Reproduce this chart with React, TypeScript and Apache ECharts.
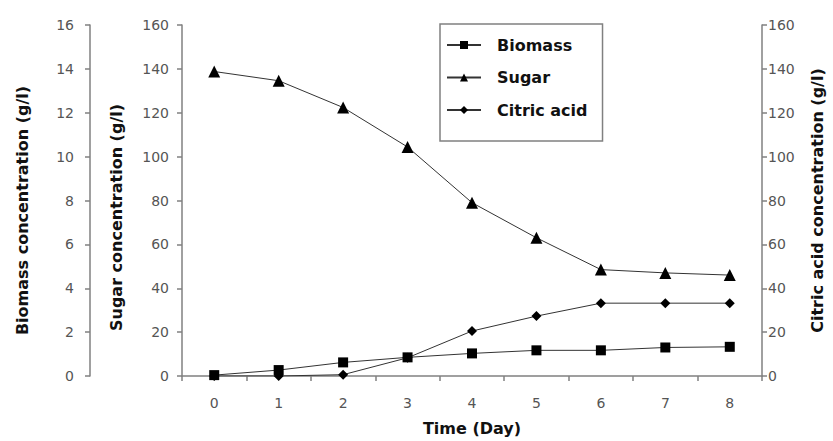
import React, { useEffect, useRef } from "react";
import * as echarts from "echarts";

const days = ["0", "1", "2", "3", "4", "5", "6", "7", "8"];
const biomass = [0.04, 0.27, 0.62, 0.85, 1.03, 1.17, 1.17, 1.3, 1.33];
const sugar = [138.8, 134.6, 122.4, 104.4, 79, 63, 48.5, 47, 46];
const citricAcid = [0, 0, 0.6, 8.3, 20.5, 27.3, 33.2, 33.2, 33.2];

const biomassTicks = { min: 0, max: 16, interval: 2 };
const concTicks = { min: 0, max: 160, interval: 20 };

const FONT = "DejaVu Sans";
const AXIS_GRAY = "#808080";
const LABEL_GRAY = "#555";

export default function App() {
  const ref = useRef<HTMLDivElement>(null);

  useEffect(() => {
    if (!ref.current) return;
    document.body.style.margin = "0";
    const chart = echarts.init(ref.current, undefined, { renderer: "svg" });

    const axisLine = { show: true, lineStyle: { color: AXIS_GRAY, width: 1.5 } };
    const axisTick = { show: true, length: 5, lineStyle: { color: AXIS_GRAY, width: 1.5 } };
    const nameStyle = { fontFamily: FONT, fontWeight: "bold", fontSize: 16, color: "#111" };
    const labelStyle = { fontFamily: FONT, fontSize: 14, color: LABEL_GRAY };

    const lineStyle = { color: "#333", width: 1 };
    const itemStyle = { color: "#000" };

    chart.setOption({
      animation: false,
      grid: { left: 182, right: 70, top: 25, bottom: 65, containLabel: false },
      legend: {
        show: true,
        orient: "vertical",
        left: 440,
        top: 24,
        padding: [12, 15, 22, 6],
        itemGap: 14.5,
        itemWidth: 34,
        itemHeight: 10,
        borderColor: AXIS_GRAY,
        borderWidth: 1.5,
        data: ["Biomass", "Sugar", "Citric acid"],
        textStyle: {
          fontFamily: FONT,
          fontWeight: "bold",
          fontSize: 16,
          color: "#111",
          lineHeight: 18,
          padding: [0, 0, 0, 11],
        },
      },
      xAxis: {
        type: "category",
        data: days,
        boundaryGap: true,
        name: "Time (Day)",
        nameLocation: "middle",
        nameGap: 44,
        nameTextStyle: nameStyle,
        axisLine,
        axisTick: { ...axisTick, interval: 0 },
        axisLabel: { ...labelStyle, margin: 20, interval: 0 },
        splitLine: { show: false },
      },
      yAxis: [
        {
          type: "value",
          position: "left",
          offset: 92,
          ...biomassTicks,
          name: "Biomass concentration (g/l)",
          nameLocation: "middle",
          nameRotate: 90,
          nameGap: 60,
          nameTextStyle: { ...nameStyle, padding: [0, 20, 0, 0] },
          axisLine,
          axisTick,
          axisLabel: { ...labelStyle, margin: 16 },
          splitLine: { show: false },
        },
        {
          type: "value",
          position: "left",
          offset: 0,
          ...concTicks,
          name: "Sugar concentration (g/l)",
          nameLocation: "middle",
          nameRotate: 90,
          nameGap: 58,
          nameTextStyle: { ...nameStyle, padding: [0, 34, 0, 0] },
          axisLine,
          axisTick,
          axisLabel: { ...labelStyle, margin: 13 },
          splitLine: { show: false },
        },
        {
          type: "value",
          position: "right",
          offset: 0,
          ...concTicks,
          name: "Citric acid concentration (g/l)",
          nameLocation: "middle",
          nameRotate: 90,
          nameGap: 47,
          nameTextStyle: nameStyle,
          axisLine,
          axisTick,
          axisLabel: { ...labelStyle, margin: 6 },
          splitLine: { show: false },
        },
      ],
      series: [
        {
          name: "Biomass",
          type: "line",
          yAxisIndex: 0,
          data: biomass,
          symbol: "rect",
          symbolSize: 10,
          lineStyle,
          itemStyle,
        },
        {
          name: "Sugar",
          type: "line",
          yAxisIndex: 1,
          data: sugar,
          symbol: "triangle",
          symbolSize: 12,
          lineStyle,
          itemStyle,
        },
        {
          name: "Citric acid",
          type: "line",
          yAxisIndex: 2,
          data: citricAcid,
          symbol: "diamond",
          symbolSize: 10,
          lineStyle,
          itemStyle,
        },
      ],
    });

    return () => chart.dispose();
  }, []);

  return <div ref={ref} style={{ width: 833, height: 441 }} />;
}
